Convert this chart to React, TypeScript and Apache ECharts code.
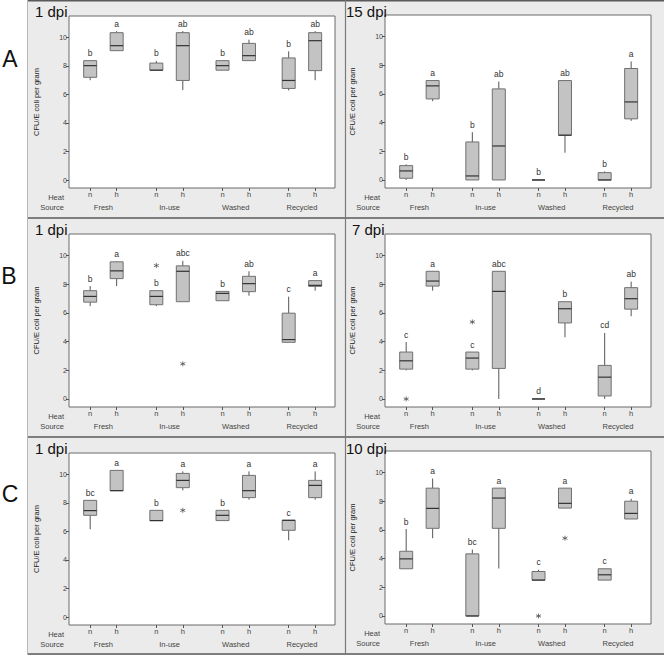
import React, { useEffect, useRef } from "react";
import * as echarts from "echarts";

// ---- shared axis data ----
const xPositions = [0, 1, 2.5, 3.5, 5, 6, 7.5, 8.5];
const heatLabels = ["n", "h", "n", "h", "n", "h", "n", "h"];
const sources = ["Fresh", "In-use", "Washed", "Recycled"];
const sourcePositions = [0.5, 3, 5.5, 8];
const yTicks = [0, 2, 4, 6, 8, 10];
const rowLetters = ["A", "B", "C"];
const panelTitles = ["1 dpi", "15 dpi", "1 dpi", "7 dpi", "1 dpi", "10 dpi"];
const yName = "CFU/E coli per gram";

// ---- box statistics: [min, q1, median, q3, max] ----
const statsA1 = [
  [7.0, 7.2, 8.02, 8.37, 8.37],
  [9.07, 9.07, 9.42, 10.33, 10.44],
  [7.7, 7.7, 7.7, 8.2, 8.35],
  [6.3, 6.98, 9.42, 10.33, 10.44],
  [7.7, 7.7, 8.02, 8.37, 8.37],
  [8.37, 8.37, 8.72, 9.58, 9.84],
  [6.28, 6.42, 6.98, 8.56, 9.02],
  [7.0, 7.67, 9.77, 10.33, 10.44],
];
const lettersA1 = ["b", "a", "b", "ab", "b", "ab", "b", "ab"];
const outliersA1: number[][] = [];

const statsA2 = [
  [0, 0.12, 0.63, 1.0, 1.09],
  [5.49, 5.65, 6.56, 6.93, 6.93],
  [0, 0, 0.28, 2.65, 3.33],
  [0, 0, 2.37, 6.35, 6.86],
  [0, 0, 0, 0, 0],
  [1.9, 3.12, 3.12, 6.93, 6.93],
  [0, 0, 0, 0.51, 0.6],
  [4.12, 4.26, 5.44, 7.77, 8.26],
];
const lettersA2 = ["b", "a", "b", "ab", "b", "ab", "b", "a"];
const outliersA2: number[][] = [];

const statsB1 = [
  [6.47, 6.75, 7.15, 7.55, 7.87],
  [7.87, 8.39, 8.93, 9.56, 9.6],
  [6.47, 6.57, 7.15, 7.55, 7.55],
  [6.78, 6.78, 8.9, 9.28, 9.63],
  [6.85, 6.85, 7.36, 7.5, 7.5],
  [7.2, 7.48, 8.04, 8.55, 8.9],
  [3.95, 3.95, 4.14, 5.98, 7.13],
  [7.55, 7.85, 7.92, 8.25, 8.25],
];
const lettersB1 = ["b", "a", "b", "abc", "b", "ab", "c", "a"];
const outliersB1 = [
  [2, 9.3],
  [3, 2.45],
];

const statsB2 = [
  [1.99, 2.08, 2.66, 3.27, 3.97],
  [7.55, 7.87, 8.22, 8.9, 8.9],
  [1.99, 2.08, 2.85, 3.27, 3.27],
  [0, 2.13, 7.5, 8.9, 8.9],
  [0, 0, 0, 0, 0],
  [4.3, 5.3, 6.29, 6.78, 6.78],
  [0, 0.21, 1.52, 2.34, 4.6],
  [5.77, 6.26, 6.99, 7.76, 8.18],
];
const lettersB2 = ["c", "a", "c", "abc", "d", "b", "cd", "ab"];
const outliersB2 = [
  [0, 0],
  [2, 5.37],
];

const statsC1 = [
  [6.15, 7.13, 7.46, 8.18, 8.18],
  [8.86, 8.86, 8.86, 10.28, 10.28],
  [6.76, 6.76, 6.76, 7.48, 7.48],
  [8.88, 9.07, 9.58, 10.07, 10.21],
  [6.76, 6.76, 7.13, 7.48, 7.48],
  [8.23, 8.37, 8.86, 9.93, 10.21],
  [5.38, 6.08, 6.78, 6.78, 6.78],
  [8.23, 8.37, 9.23, 9.58, 10.21],
];
const lettersC1 = ["bc", "a", "b", "a", "b", "a", "c", "a"];
const outliersC1 = [[3, 7.48]];

const statsC2 = [
  [3.29, 3.29, 3.98, 4.51, 6.06],
  [5.42, 6.11, 7.5, 8.91, 9.58],
  [0, 0, 0, 4.33, 4.63],
  [3.31, 6.11, 8.22, 8.91, 8.91],
  [2.5, 2.5, 2.5, 3.1, 3.22],
  [7.52, 7.52, 7.85, 8.91, 8.91],
  [2.5, 2.5, 2.87, 3.29, 3.29],
  [6.76, 6.76, 7.15, 8.0, 8.17],
];
const lettersC2 = ["b", "a", "bc", "a", "c", "a", "c", "a"];
const outliersC2 = [
  [4, 0],
  [5, 5.42],
];

const panelStats = [statsA1, statsA2, statsB1, statsB2, statsC1, statsC2];
const panelLettersArr = [lettersA1, lettersA2, lettersB1, lettersB2, lettersC1, lettersC2];
const panelOutliers = [outliersA1, outliersA2, outliersB1, outliersB2, outliersC1, outliersC2];

// ---- layout ----
const W = 664;
const H = 655;
const FONT = "Liberation Sans, Arial, sans-serif";
const gridBoxes = [
  { left: 69, top: 16, width: 266, height: 172 },
  { left: 385, top: 15, width: 266, height: 173 },
  { left: 69, top: 234, width: 266, height: 173 },
  { left: 385, top: 234, width: 266, height: 173 },
  { left: 69, top: 453, width: 266, height: 172 },
  { left: 385, top: 451, width: 266, height: 173 },
];
const titlePos = [
  [35, 4],
  [346, 4],
  [35, 222],
  [352, 222],
  [35, 441],
  [346, 441],
];
const letterPos = [
  [10, 59],
  [9, 276],
  [10, 494],
];

function buildOption() {
  const grid: any[] = [];
  const xAxis: any[] = [];
  const yAxis: any[] = [];
  const series: any[] = [];
  const graphic: any[] = [];

  // background structure
  graphic.push({ type: "rect", z: -10, shape: { x: 0, y: 0, width: 27, height: H }, style: { fill: "#ffffff" } });
  const lineStyle = { stroke: "#5a5a5a", lineWidth: 1.5 };
  graphic.push({ type: "line", z: 50, shape: { x1: 27, y1: 0.75, x2: W, y2: 0.75 }, style: lineStyle });
  graphic.push({ type: "line", z: 50, shape: { x1: 27, y1: 218, x2: W, y2: 218 }, style: lineStyle });
  graphic.push({ type: "line", z: 50, shape: { x1: 27, y1: 437, x2: W, y2: 437 }, style: lineStyle });
  graphic.push({ type: "line", z: 50, shape: { x1: 27, y1: 654, x2: W, y2: 654 }, style: lineStyle });
  graphic.push({ type: "line", z: 50, shape: { x1: 345.5, y1: 0, x2: 345.5, y2: H }, style: { stroke: "#7a7a7a", lineWidth: 1.2 } });
  graphic.push({ type: "line", z: 50, shape: { x1: 27.5, y1: 0, x2: 27.5, y2: H }, style: { stroke: "#b8b8b8", lineWidth: 1 } });

  rowLetters.forEach((l, i) => {
    graphic.push({
      type: "text",
      z: 60,
      style: { text: l, x: letterPos[i][0], y: letterPos[i][1], align: "center", verticalAlign: "middle", fontSize: 23, fontFamily: FONT, fill: "#111" },
    });
  });

  gridBoxes.forEach((g, p) => {
    grid.push({ ...g, show: true, backgroundColor: "#ffffff", borderColor: "#6a6a6a", borderWidth: 1 });

    const baseX = {
      gridIndex: p,
      type: "value",
      min: -0.8,
      max: 9.25,
      position: "bottom",
      splitLine: { show: false },
    };
    xAxis.push({
      ...baseX,
      axisLine: { show: false, onZero: false },
      axisTick: { show: true, customValues: xPositions, length: 3, lineStyle: { color: "#555" } },
      axisLabel: {
        show: true,
        customValues: xPositions,
        margin: 2,
        fontSize: 7.5,
        color: "#444",
        fontFamily: FONT,
        formatter: (v: number) => {
          const i = xPositions.findIndex((x) => Math.abs(x - v) < 1e-6);
          return i >= 0 ? heatLabels[i] : "";
        },
      },
    });
    xAxis.push({
      ...baseX,
      offset: 10,
      axisLine: { show: false, onZero: false },
      axisTick: { show: false },
      axisLabel: {
        show: true,
        customValues: sourcePositions,
        margin: 5,
        fontSize: 7.5,
        color: "#444",
        fontFamily: FONT,
        formatter: (v: number) => {
          const i = sourcePositions.findIndex((x) => Math.abs(x - v) < 1e-6);
          return i >= 0 ? sources[i] : "";
        },
      },
    });
    yAxis.push({
      gridIndex: p,
      type: "value",
      min: -0.56,
      max: 11.5,
      position: "left",
      splitLine: { show: false },
      axisLine: { show: false, onZero: false },
      axisTick: { show: true, customValues: yTicks, length: 3, lineStyle: { color: "#555" } },
      axisLabel: { show: true, customValues: yTicks, margin: 2, fontSize: 7, color: "#444", fontFamily: FONT },
      name: yName,
      nameLocation: "middle",
      nameGap: 29,
      nameTextStyle: { fontSize: 7.5, color: "#222", fontFamily: FONT },
    });

    const letters = panelLettersArr[p];
    series.push({
      type: "custom",
      xAxisIndex: 2 * p,
      yAxisIndex: p,
      encode: { x: 0, y: [1, 2, 3, 4, 5] },
      data: panelStats[p].map((s, i) => [xPositions[i], ...s]),
      renderItem: (params: any, api: any) => {
        const x = api.value(0);
        const mn = api.value(1);
        const q1 = api.value(2);
        const md = api.value(3);
        const q3 = api.value(4);
        const mx = api.value(5);
        const cx = api.coord([x, q1])[0];
        const yMin = api.coord([x, mn])[1];
        const yQ1 = api.coord([x, q1])[1];
        const yMd = api.coord([x, md])[1];
        const yQ3 = api.coord([x, q3])[1];
        const yMax = api.coord([x, mx])[1];
        const hw = 6.5;
        const children: any[] = [];
        if (yMax < yQ3 - 0.5) {
          children.push({ type: "line", shape: { x1: cx, y1: yMax, x2: cx, y2: yQ3 }, style: { stroke: "#555", lineWidth: 1 } });
        }
        if (yMin > yQ1 + 0.5) {
          children.push({ type: "line", shape: { x1: cx, y1: yQ1, x2: cx, y2: yMin }, style: { stroke: "#555", lineWidth: 1 } });
        }
        children.push({
          type: "rect",
          shape: { x: cx - hw, y: yQ3, width: hw * 2, height: Math.max(0, yQ1 - yQ3) },
          style: { fill: "#c3c3c3", stroke: "#707070", lineWidth: 1 },
        });
        children.push({ type: "line", shape: { x1: cx - hw, y1: yMd, x2: cx + hw, y2: yMd }, style: { stroke: "#333", lineWidth: 1.2 } });
        children.push({
          type: "text",
          style: {
            text: letters[params.dataIndex],
            x: cx,
            y: yMax - 3,
            align: "center",
            verticalAlign: "bottom",
            fontSize: 8.5,
            fontFamily: FONT,
            fill: "#333",
          },
        });
        return { type: "group", children };
      },
    });

    series.push({
      type: "scatter",
      xAxisIndex: 2 * p,
      yAxisIndex: p,
      data: panelOutliers[p].map(([i, v]) => [xPositions[i], v]),
      symbol: "path://M5,0L5,10M0.67,2.5L9.33,7.5M0.67,7.5L9.33,2.5",
      symbolSize: 5,
      itemStyle: { color: "transparent", borderColor: "#444", borderWidth: 0.9 },
    });

    // dpi title
    graphic.push({
      type: "text",
      z: 60,
      style: { text: panelTitles[p], x: titlePos[p][0], y: titlePos[p][1], align: "left", verticalAlign: "top", fontSize: 15, fontFamily: FONT, fill: "#111" },
    });
    // Heat / Source row headers
    const axisBottom = g.top + g.height;
    graphic.push({
      type: "text",
      z: 60,
      style: { text: "Heat", x: g.left - 5, y: axisBottom + 9, align: "right", verticalAlign: "middle", fontSize: 7.5, fontFamily: FONT, fill: "#444" },
    });
    graphic.push({
      type: "text",
      z: 60,
      style: { text: "Source", x: g.left - 5, y: axisBottom + 19, align: "right", verticalAlign: "middle", fontSize: 7.5, fontFamily: FONT, fill: "#444" },
    });
  });

  return {
    animation: false,
    backgroundColor: "#ebebeb",
    grid,
    xAxis,
    yAxis,
    series,
    graphic: { elements: graphic },
  };
}

export default function App() {
  const ref = useRef<HTMLDivElement>(null);
  useEffect(() => {
    if (!ref.current) return;
    const chart = echarts.init(ref.current, undefined, { renderer: "svg" });
    chart.setOption(buildOption() as any);
    return () => chart.dispose();
  }, []);
  return <div ref={ref} style={{ position: "absolute", left: 0, top: 0, width: W, height: H }} />;
}
